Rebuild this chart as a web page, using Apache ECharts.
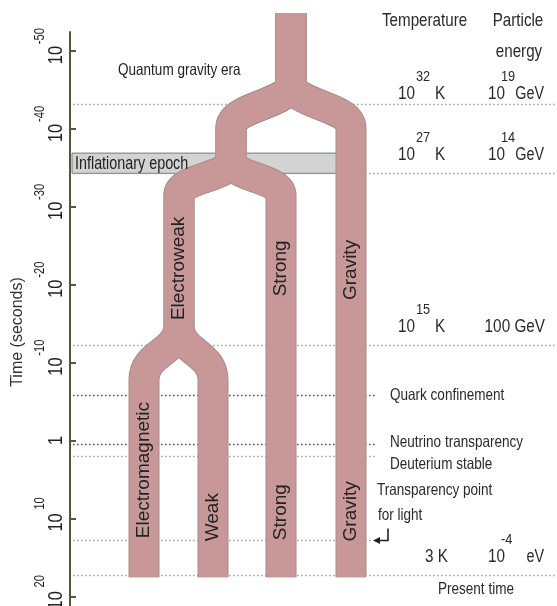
<!DOCTYPE html>
<html><head><meta charset="utf-8">
<script src="https://cdn.jsdelivr.net/npm/echarts@6/dist/echarts.min.js"></script>
<style>html,body{margin:0;padding:0;background:#fff}#main{width:557px;height:606px}</style>
</head><body><div id="main"></div>
<script>
// ---------------- data ----------------
// vertical axis: log10(time / seconds)
const tickExponents = [-50, -40, -30, -20, -10, 0, 10, 20];
const axisTop = -52.45;
const axisBottom = 21.25;

// horizontal lanes of the force branches (diagram units)
const laneUnified = 291;
const laneGUT = 231;
const laneGravity = 351;
const laneElectroweak = 179;
const laneStrong = 281;
const laneEM = 144;
const laneWeak = 213;
const laneNotes = 377;

// branching times (log10 s): [start of split, end of split]
const originTime = -54.9;
const planckSplit = [-46.0, -40.1];
const gutSplit = [-36.0, -31.5];
const ewSplit = [-14.8, -7.8];
const presentEnd = 17.55;
const inflation = [-36.9, -34.3];

// dotted epoch lines
const epochTimes = [-43.2, -34.3, -12.2, -5.8, 0.45, 2.0, 12.8, 17.3];
const epochShort = [false, false, false, true, true, true, true, false];
const epochDark = [false, false, false, true, true, false, false, false];

// force labels
const forceNames = ['Electroweak', 'Strong', 'Gravity', 'Electromagnetic', 'Weak', 'Strong', 'Gravity'];
const forceLanes = [laneElectroweak, laneStrong, laneGravity, laneEM, laneWeak, laneStrong, laneGravity];
const forceTimes = [-22.1, -22.1, -21.9, 3.8, 9.85, 9.2, 9.1];

// temperature / energy rows (times of the lines they sit on)
const rowTimes = [-43.2, -34.3, -12.2, 17.3];
const tempBase = ['10', '10', '10', '3'];
const tempExp = ['32', '27', '15', ''];
const energyBase = ['10', '10', '100', '10'];
const energyExp = ['19', '14', '', '-4'];
const energyUnit = ['GeV', 'GeV', 'GeV', 'eV'];

// event notes
const noteTexts = ['Quark confinement', 'Neutrino transparency', 'Deuterium stable', 'Transparency point', 'for light', 'Present time'];
const noteTimes = [-5.8, 0.45, 2.0, 12.8, 12.8, 17.3];

// ---------------- styles ----------------
const FONT = "'Liberation Sans',Arial,Helvetica,sans-serif";
const PINK = '#c89898', PINK_EDGE = '#a98b8b', BAND = '#d2d4d4', DOT = '#a8a48c', DOT_DARK = '#505050', AXIS = '#5a5240', TEXT = '#222';

const trunk = [[laneUnified, originTime], [laneUnified, planckSplit[0]]];
const gutPart = trunk.concat([[laneGUT, planckSplit[1]], [laneGUT, gutSplit[0]]]);
const ewPart = gutPart.concat([[laneElectroweak, gutSplit[1]], [laneElectroweak, ewSplit[0]]]);
const branchPaths = [
  trunk.concat([[laneGravity, planckSplit[1]], [laneGravity, presentEnd]]),
  gutPart.concat([[laneStrong, gutSplit[1]], [laneStrong, presentEnd]]),
  ewPart.concat([[laneEM, ewSplit[1]], [laneEM, presentEnd]]),
  ewPart.concat([[laneWeak, ewSplit[1]], [laneWeak, presentEnd]])
];

function pathData(api, pts) {
  let d = '';
  for (let i = 0; i < pts.length; i++) {
    const c = api.coord(pts[i]);
    if (i === 0) { d += 'M' + c[0] + ' ' + c[1]; continue; }
    const p = api.coord(pts[i - 1]);
    if (Math.abs(c[0] - p[0]) < 0.01) d += 'L' + c[0] + ' ' + c[1];
    else {
      const my = (p[1] + c[1]) / 2;
      d += 'C' + p[0] + ' ' + my + ' ' + c[0] + ' ' + my + ' ' + c[0] + ' ' + c[1];
    }
  }
  return d;
}
function branchSeries(width, color, z) {
  return {
    type: 'custom', z: z, silent: true, clip: false,
    data: branchPaths.map(p => p[p.length - 1]),
    renderItem: (params, api) => ({
      type: 'path',
      shape: { pathData: pathData(api, branchPaths[params.dataIndex]) },
      style: { fill: 'none', stroke: color, lineWidth: width, lineCap: 'butt', lineJoin: 'round' }
    })
  };
}

const option = {
  animation: false,
  backgroundColor: '#fff',
  grid: { left: 70, right: 0, top: 32, bottom: 0, containLabel: false, outerBoundsMode: 'none' },
  xAxis: { type: 'value', min: 70, max: 557, show: false },
  yAxis: {
    type: 'value', inverse: true, min: axisTop, max: axisBottom,
    axisLine: { show: true, lineStyle: { color: AXIS, width: 2 } },
    axisTick: { show: true, inside: true, length: 6, customValues: tickExponents, lineStyle: { color: AXIS, width: 2 } },
    splitLine: { show: false },
    axisLabel: { show: false }
  },
  series: [
    { // inflationary band
      type: 'custom', z: 1, silent: true,
      data: [[laneGravity, inflation[1]]],
      renderItem: (params, api) => {
        const a = api.coord([laneUnified, inflation[0]]);
        const b = api.coord([laneGravity, inflation[1]]);
        const x0 = params.coordSys.x + 2;
        return { type: 'rect', shape: { x: x0, y: a[1], width: b[0] - x0, height: b[1] - a[1] },
          style: { fill: BAND, stroke: '#7a7a7a', lineWidth: 1 } };
      }
    },
    { // dotted epoch lines
      type: 'custom', z: 2, silent: true,
      data: epochTimes.map(t => [laneNotes, t]),
      renderItem: (params, api) => {
        const i = params.dataIndex;
        const y = Math.round(api.coord([laneNotes, epochTimes[i]])[1]) + 0.5;
        const x0 = params.coordSys.x + 3;
        const x1 = epochShort[i] ? api.coord([laneNotes - (i === 6 ? 4 : 0), 0])[0] : params.coordSys.x + params.coordSys.width;
        return { type: 'line', shape: { x1: x0, y1: y, x2: x1, y2: y },
          style: { stroke: epochDark[i] ? DOT_DARK : DOT, lineWidth: 1.6, lineDash: [1.6, 2.4] } };
      }
    },
    branchSeries(31, PINK_EDGE, 3),
    branchSeries(29, PINK, 4),
    { // force labels
      type: 'custom', z: 5, silent: true,
      data: forceNames.map((n, i) => [forceLanes[i], forceTimes[i]]),
      renderItem: (params, api) => {
        const i = params.dataIndex;
        const c = api.coord([forceLanes[i], forceTimes[i]]);
        return { type: 'text', x: c[0], y: c[1], rotation: Math.PI / 2,
          style: { text: forceNames[i], fill: TEXT, fontSize: 19, fontFamily: FONT,
            align: 'center', verticalAlign: 'middle', textAlign: 'center', textVerticalAlign: 'middle' } };
      }
    }
  ]
};

const chart = echarts.init(document.getElementById('main'), null, { renderer: 'canvas' });
chart.setOption(option);

const py = t => chart.convertToPixel({ gridIndex: 0 }, [laneNotes, t])[1];
function T(x, y, text, o) {
  o = o || {};
  const align = o.align || 'left', va = o.va || 'middle';
  return { type: 'text', x: x, y: y, rotation: o.rotation || 0, scaleX: o.sx || 0.82, z: 20, silent: true,
    style: { text: text, fill: o.fill || TEXT, fontSize: o.size || 16, fontFamily: FONT,
      align: align, verticalAlign: va, textAlign: align, textVerticalAlign: va } };
}
const g = [];
const ROT = Math.PI / 2;
// axis tick labels (rotated, base "10" with raised exponent)
tickExponents.forEach(e => {
  const y = py(e);
  if (e === 0) {
    g.push(T(66.5, y, '1', { size: 20.5, sx: 0.8, align: 'center', va: 'bottom', rotation: ROT }));
  } else {
    g.push(T(66.5, y + 4, '10', { size: 20.5, sx: 0.8, align: 'center', va: 'bottom', rotation: ROT }));
    g.push(T(47, y - 15, String(e), { size: 14, sx: 0.8, align: 'center', va: 'bottom', rotation: ROT }));
  }
});
g.push(T(18, 332, 'Time (seconds)', { size: 16, sx: 1, align: 'center', rotation: ROT, fill: '#333' }));
g.push(T(382, 21, 'Temperature', { size: 18.5, fill: '#2a2a2a' }));
g.push(T(518, 21, 'Particle', { size: 18.5, align: 'center', fill: '#2a2a2a' }));
g.push(T(519, 52, 'energy', { size: 18.5, align: 'center', fill: '#2a2a2a' }));
g.push(T(118, 70, 'Quantum gravity era', { size: 16.5, sx: 0.82 }));
g.push(T(75, (py(inflation[0]) + py(inflation[1])) / 2 + 1, 'Inflationary epoch', { size: 17.5 }));
// temperature / energy rows
const RC = '#2a2a2a';
rowTimes.forEach((t, i) => {
  const yb = py(t) - (i === 0 ? 10.5 : 18.5);   // centre of base glyphs
  const ys = yb - 17;                           // centre of exponent glyphs
  if (tempExp[i]) {
    g.push(T(398, yb, tempBase[i], { size: 18, sx: 0.85, fill: RC }));
    g.push(T(416, ys, tempExp[i], { size: 15, sx: 0.85, fill: RC }));
    g.push(T(435, yb, 'K', { size: 18, sx: 0.85, fill: RC }));
  } else {
    g.push(T(448, yb, tempBase[i] + ' K', { size: 18, sx: 0.85, fill: RC, align: 'right' }));
  }
  if (energyExp[i]) {
    g.push(T(488, yb, energyBase[i], { size: 18, sx: 0.85, fill: RC }));
    g.push(T(501, ys, energyExp[i], { size: 15, sx: 0.85, fill: RC }));
    g.push(T(544, yb, energyUnit[i], { size: 18, sx: 0.8, fill: RC, align: 'right' }));
  } else {
    g.push(T(545, yb, energyBase[i] + ' ' + energyUnit[i], { size: 18, sx: 0.85, fill: RC, align: 'right' }));
  }
});
const noteDy = [0, -2, 8, -50, -25, 14];
const noteX = [390, 390, 390, 377, 378, 438];
noteTexts.forEach((s, i) => {
  g.push(T(noteX[i], py(noteTimes[i]) + noteDy[i], s, { size: 16.5, fill: RC }));
});
// bent arrow to the light-transparency line
const ya = Math.round(py(epochTimes[6])) + 0.5;
g.push({ type: 'polyline', z: 20, silent: true, shape: { points: [[388, ya - 12], [388, ya], [378, ya]] }, style: { stroke: '#222', lineWidth: 1.6, fill: null } });
g.push({ type: 'polygon', z: 20, silent: true, shape: { points: [[373, ya], [380, ya - 3.5], [380, ya + 3.5]] }, style: { fill: '#222' } });
chart.setOption({ graphic: g });
</script>
</body></html>
